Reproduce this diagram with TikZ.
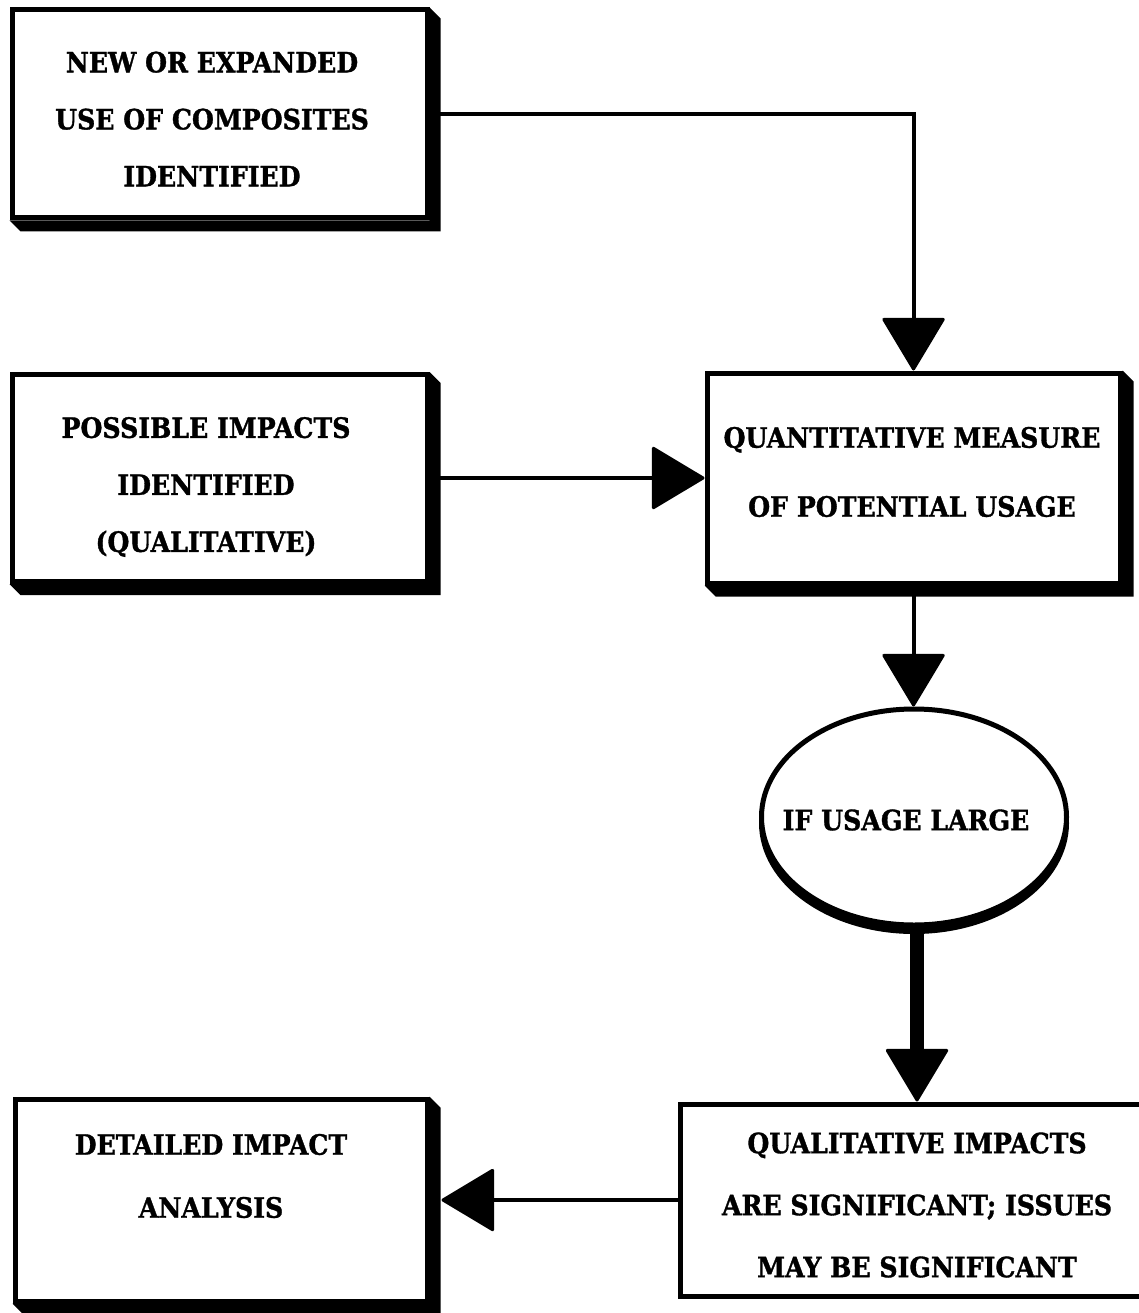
\documentclass[tikz,border=0pt]{standalone}
\usepackage{fontspec}
\newfontfamily\boxfont{DejaVu Serif}[FakeStretch=0.9, BoldFeatures={FakeBold=1.2}]
\usetikzlibrary{arrows.meta,shapes.geometric,backgrounds}

% L-shaped drop shadow on the right and bottom of a box node
\newcommand\dropshadow[1]{%
  \fill (#1.north east) -- ++(11,11) -- ([shift={(11,11)}]#1.south east)
    -- ([shift={(11,11)}]#1.south west) -- (#1.south west)
    -- (#1.south east) -- cycle;}

\begin{document}
\begin{tikzpicture}[x=1pt,y=-1pt,
  box/.style={draw, line width=5pt, fill=white, rectangle, inner sep=0pt},
  oval/.style={draw, line width=5pt, fill=white, ellipse, inner sep=0pt},
  words/.style={font=\boxfont\bfseries\fontsize{28}{57}\selectfont,
                align=center, inner sep=0pt},
  tip/.style={-{Triangle[length=54pt,width=64pt,line width=3pt,round]}},
  link/.style={line width=4pt, tip},
  heavylink/.style={line width=14pt, tip},
]
\useasboundingbox (0,0) rectangle (1139,1313);
\clip (0,0) rectangle (1139,1313);

% boxes
\node[box, minimum width=415, minimum height=208] (b1) at (219.5,114) {};
\node[box, minimum width=415, minimum height=207] (b3) at (219.5,478) {};
\node[box, minimum width=413, minimum height=210] (b2) at (913.5,478) {};
\node[oval, minimum width=305, minimum height=216] (ell) at (914,817) {};
\node[box, minimum width=474, minimum height=192] (b4) at (917,1200) {};
\node[box, minimum width=412, minimum height=202] (b5) at (221,1200) {};

% shadows
\begin{scope}[on background layer]
  \dropshadow{b1}
  \dropshadow{b3}
  \dropshadow{b2}
  \dropshadow{b5}
  \fill ([shift={(0,6)}]ell.center) ellipse [x radius=155, y radius=111];
\end{scope}

% labels
\node[words] (t1) at (212,119) {NEW OR EXPANDED\\USE OF COMPOSITES\\IDENTIFIED};
\node[words] (t3) at (206,487) {POSSIBLE IMPACTS\\IDENTIFIED\\(QUALITATIVE)};
\node[words, font=\boxfont\bfseries\fontsize{28}{69}\selectfont] (t2) at (912,472)
  {QUANTITATIVE MEASURE\\OF POTENTIAL USAGE};
\node[words] (te) at (906,820) {IF USAGE LARGE};
\node[words, font=\boxfont\bfseries\fontsize{28}{62}\selectfont] (t4) at (917,1205)
  {QUALITATIVE IMPACTS\\ARE SIGNIFICANT; ISSUES\\MAY BE SIGNIFICANT};
\node[words, font=\boxfont\bfseries\fontsize{28}{63}\selectfont] (t5) at (211,1176)
  {DETAILED IMPACT\\ANALYSIS};

% connectors
\draw[link] (b1.east) -| (b2.north);
\draw[link] (b3.east) -- (b2.west);
\draw[link] (b2.south) -- (b2.south |- ell.north);
\draw[heavylink] (b4.north |- ell.south) -- (b4.north);
\draw[link] (b4.west) -- ([xshift=12pt]b5.east);
\end{tikzpicture}
\end{document}
